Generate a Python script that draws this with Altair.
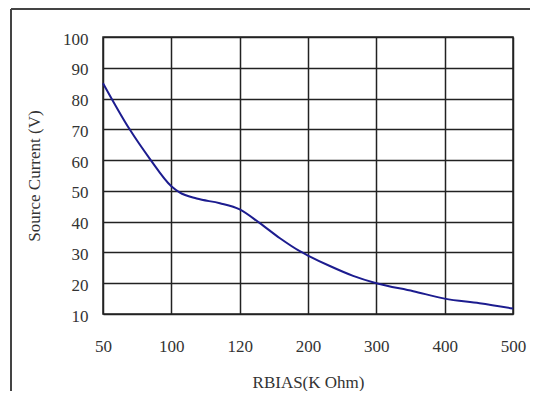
import altair as alt
import pandas as pd

x_labels = ["50", "100", "120", "200", "300", "400", "500"]
# curve position along the evenly spaced category axis (0 = "50", 6 = "500")
curve_pos = [0.0, 0.39, 0.683, 1.0, 1.12, 1.37, 1.71, 2.0, 2.29, 2.59, 2.88, 3.0, 3.32, 3.66, 4.0, 4.54, 5.0, 5.51, 6.0]
curve_val = [85.0, 70.0, 60.5, 51.5, 49.5, 47.5, 46.0, 44.0, 39.6, 34.6, 30.4, 29.0, 25.6, 22.4, 20.0, 17.4, 15.0, 13.5, 11.8]
y_ticks = [10, 20, 30, 40, 50, 60, 70, 80, 90, 100]

df = pd.DataFrame({"pos": curve_pos, "val": curve_val})

label_expr = "[" + ",".join("'" + s + "'" for s in x_labels) + "][datum.value]"
FONT = "Liberation Serif"

line = alt.Chart(df).mark_line(color="#1c1c8f", strokeWidth=2, interpolate="monotone").encode(
    x=alt.X("pos:Q", scale=alt.Scale(domain=[0, 6], nice=False, zero=False),
            axis=alt.Axis(values=list(range(len(x_labels))), labelExpr=label_expr,
                          title="RBIAS(K Ohm)", ticks=False, tickSize=0, domain=False,
                          grid=True, gridColor="#222222", gridWidth=1.5, gridOpacity=1,
                          labelFlush=False, labelOverlap=False,
                          labelPadding=24, titlePadding=20, labelFontSize=17,
                          titleFontSize=17, labelFont=FONT, titleFont=FONT,
                          labelColor="#333333", titleColor="#333333", titleFontWeight="normal")),
    y=alt.Y("val:Q", scale=alt.Scale(domain=[10, 100], nice=False, zero=False),
            axis=alt.Axis(values=y_ticks, title="Source Current (V)", ticks=False, tickSize=0,
                          domain=False, grid=True, gridColor="#222222", gridWidth=1.5, gridOpacity=1,
                          labelFlush=False, labelOverlap=False, labelOffset=2,
                          labelPadding=15, titlePadding=19, labelFontSize=17, titleFontSize=17,
                          labelFont=FONT, titleFont=FONT, labelColor="#333333",
                          titleColor="#333333", titleFontWeight="normal")),
)

border_v = alt.Chart(df).mark_rule(color="#444444", strokeWidth=2).encode(
    x=alt.value(-92), y=alt.value(-28), y2=alt.value(370))
border_h = alt.Chart(df).mark_rule(color="#444444", strokeWidth=2).encode(
    x=alt.value(-92), x2=alt.value(440), y=alt.value(-28))

chart = alt.layer(line, border_v, border_h).properties(
    width=410, height=277,
    autosize=alt.AutoSizeParams(type="none"),
    padding={"left": 95, "top": 29, "right": 17, "bottom": 77},
).configure_view(stroke="#222222", strokeWidth=1.5)

chart.save("out.html", embed_options={"renderer": "svg", "actions": False})
